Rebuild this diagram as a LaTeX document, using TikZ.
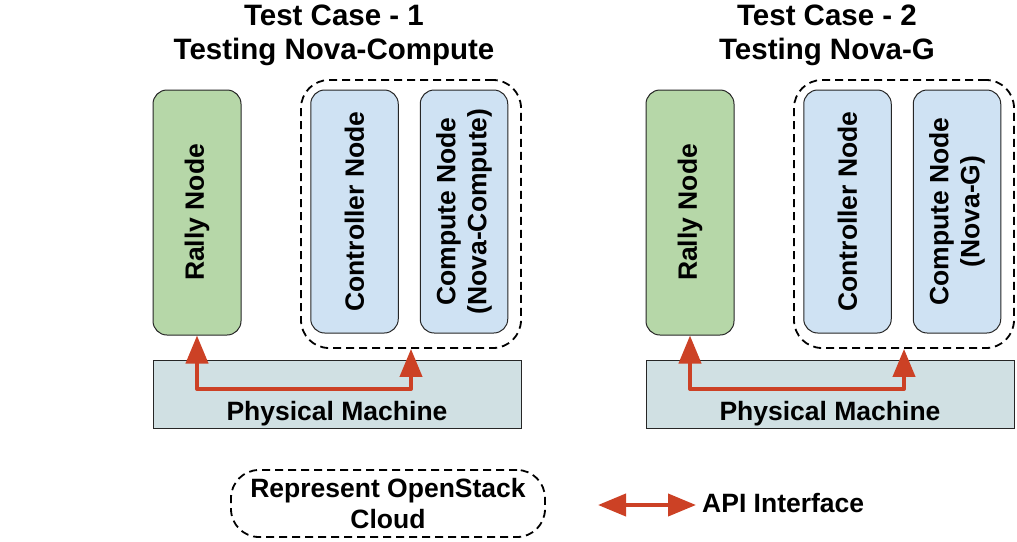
\documentclass[tikz,border=0pt]{standalone}
\usepackage{fontspec}
\setmainfont{Liberation Sans}
\usetikzlibrary{arrows.meta}
\definecolor{rallyfill}{HTML}{B6D7A8}
\definecolor{vmfill}{HTML}{CFE2F3}
\definecolor{pmfill}{HTML}{D0E0E3}
\definecolor{apired}{HTML}{CC4125}
\newcommand\diagnodefont{\bfseries\fontsize{26.5}{31}\selectfont}
\newcommand\diagtitlefont{\bfseries\fontsize{29.5}{34}\selectfont}
\begin{document}
\begin{tikzpicture}[x=1pt,y=-1pt,
  vbox/.style={draw=black!85, line width=1pt, rounded corners=14pt, rotate=90,
    inner sep=0pt, font=\diagnodefont, align=center},
  rallybox/.style={vbox, fill=rallyfill, minimum width=245pt, minimum height=88pt},
  vmbox/.style={vbox, fill=vmfill, minimum width=243pt, minimum height=87.5pt},
  cloudbox/.style={draw=black, dash pattern=on 8pt off 5pt, line width=1.8pt,
    rounded corners=28pt, inner sep=0pt},
  pmbox/.style={draw=black!85, fill=pmfill, line width=1pt, inner sep=0pt,
    minimum width=368pt, minimum height=68pt},
  lbl/.style={font=\diagnodefont, inner sep=0pt},
  ttl/.style={font=\diagtitlefont, align=center, inner sep=0pt},
  api/.style={draw=apired, line width=4pt, line join=round,
    {Triangle[length=28pt,width=22pt]}-{Triangle[length=28pt,width=22pt]}}
]
\useasboundingbox (0,0) rectangle (1017,541);

% ---------- Test case 1 ----------
\node[ttl] (t1) at (334,35) {Test Case - 1\\Testing Nova-Compute};
\node[pmbox] (pm1) at (337,394) {};
\node[lbl, anchor=base] (pml1) at (337,420) {Physical Machine};
\node[rallybox] (r1) at (197,212.5) {Rally Node};
\node[vmbox] (c1) at (354.5,211.5) {Controller Node};
\node[vmbox] (n1) at (464,211.5) {Compute Node\\(Nova-Compute)};
\node[cloudbox, minimum width=220pt, minimum height=268pt] (cl1) at (411,214) {};
\coordinate (k1) at (0,389);
\draw[api] (r1.west) -- (r1.west |- k1) -| (cl1.south);

% ---------- Test case 2 ----------
\node[ttl] (t2) at (827,35) {Test Case - 2\\Testing Nova-G};
\node[pmbox] (pm2) at (830,394) {};
\node[lbl, anchor=base] (pml2) at (830,420) {Physical Machine};
\node[rallybox] (r2) at (690,212.5) {Rally Node};
\node[vmbox] (c2) at (847.5,211.5) {Controller Node};
\node[vmbox] (n2) at (957,211.5) {Compute Node\\(Nova-G)};
\node[cloudbox, minimum width=220pt, minimum height=268pt] (cl2) at (904,214) {};
\coordinate (k2) at (0,389);
\draw[api] (r2.west) -- (r2.west |- k2) -| (cl2.south);

% ---------- Legend ----------
\node[cloudbox, minimum width=314pt, minimum height=67pt, font=\diagnodefont,
  align=center] (lg) at (388,503.5) {Represent OpenStack\\Cloud};
\coordinate (la1) at (598,505);
\coordinate (la2) at (696,505);
\draw[api] (la1) -- (la2);
\node[lbl, anchor=west] (apil) at (702,503) {API Interface};
\end{tikzpicture}
\end{document}
